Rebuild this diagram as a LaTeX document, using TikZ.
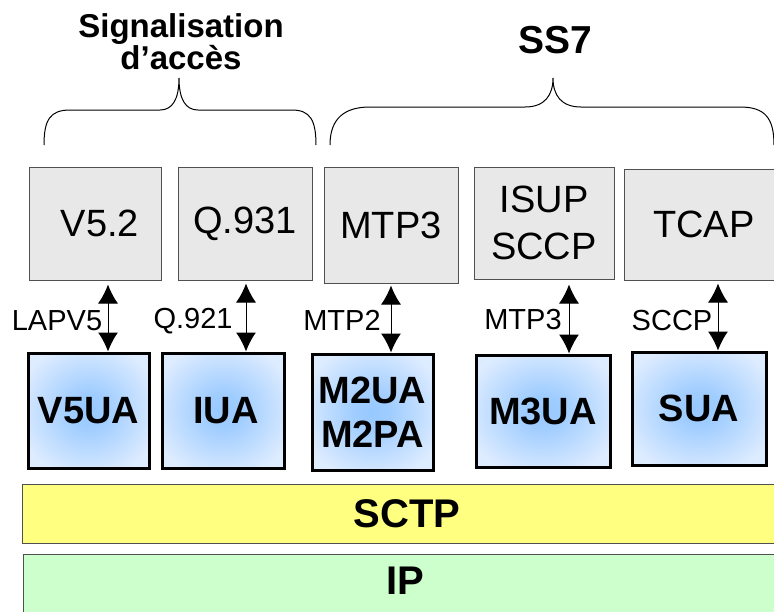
\documentclass[tikz,border=0pt]{standalone}
\usepackage{fontspec}
\setmainfont{Liberation Sans}
\usetikzlibrary{arrows.meta}
\definecolor{grayfill}{RGB}{232,232,232}
\definecolor{grayline}{RGB}{80,80,80}
\definecolor{bluein}{RGB}{150,200,255}
\definecolor{blueout}{RGB}{222,236,255}
\definecolor{sctpfill}{RGB}{255,255,128}
\definecolor{ipfill}{RGB}{204,255,204}
\pgfdeclareradialshading{bluerad}{\pgfpoint{0bp}{0bp}}{color(0bp)=(bluein); color(8bp)=(bluein!85!blueout); color(30bp)=(blueout); color(50bp)=(blueout)}
\tikzset{
  graybox/.style={draw=grayline, line width=1pt, fill=grayfill, inner sep=0pt, align=center, font=\fontsize{38}{47}\selectfont},
  bluebox/.style={draw=black, line width=3pt, shading=bluerad, inner sep=0pt, align=center, font=\bfseries\fontsize{38}{44}\selectfont},
  layerbar/.style={draw=grayline, line width=1pt, inner sep=0pt, font=\bfseries\fontsize{40}{48}\selectfont},
  lbl/.style={inner sep=0pt, font=\fontsize{29}{34}\selectfont},
  hdr/.style={inner sep=0pt, align=center, font=\bfseries\fontsize{33}{32}\selectfont},
  dbl/.style={line width=1pt, {Latex[length=19pt,width=20pt]}-{Latex[length=19pt,width=20pt]}},
  brace/.style={line width=1pt}
}
\begin{document}
\begin{tikzpicture}[x=1pt,y=-1pt]
\useasboundingbox (0,0) rectangle (774,611);
% headers
\node[hdr] (hacc) at (181,42) {Signalisation\\d’accès};
\node[hdr, font=\bfseries\fontsize{39}{44}\selectfont] (hss7) at (555,40) {SS7};
% braces
\draw[brace] (44,145) .. controls (44,120) and (50,110) .. (70,110) -- (160,110)
  .. controls (172,110) and (179,100) .. (179,78)
  .. controls (179,100) and (186,110) .. (198,110) -- (292,110)
  .. controls (310,110) and (316,120) .. (316,145);
\draw[brace] (330,145) .. controls (330,118) and (345,107) .. (370,107) -- (525,107)
  .. controls (545,107) and (553,95) .. (553,78)
  .. controls (553,95) and (561,107) .. (581,107) -- (740,107)
  .. controls (765,107) and (774,118) .. (774,145);
% upper protocol boxes
\node[graybox, minimum width=132pt, minimum height=113pt] (v52) at (95,223.5) {\hspace*{10pt}V5.2};
\node[graybox, minimum width=134pt, minimum height=113pt] (q931) at (245,223.5) {Q.931};
\node[graybox, minimum width=134pt, minimum height=116pt] (mtp3) at (391,225) {MTP3};
\node[graybox, minimum width=140pt, minimum height=112pt] (isup) at (544,223) {ISUP\\SCCP};
\node[graybox, minimum width=160pt, minimum height=111pt] (tcap) at (704,224.5) {TCAP};
% adaptation layer boxes
\node[bluebox, minimum width=121pt, minimum height=115pt] (v5ua) at (88.5,410.5) {V5UA};
\node[bluebox, minimum width=122pt, minimum height=115pt] (iua) at (223,410.5) {\hspace*{6pt}IUA};
\node[bluebox, minimum width=121pt, minimum height=116pt] (m2ua) at (372.5,412) {M2UA\\M2PA};
\node[bluebox, minimum width=134pt, minimum height=112pt] (m3ua) at (543,411) {M3UA};
\node[bluebox, minimum width=134pt, minimum height=113pt] (sua) at (699,408.5) {SUA};
% arrow positions
\coordinate (x1) at (108,0);
\coordinate (x2) at (246,0);
\coordinate (x3) at (391,0);
\coordinate (x4) at (569,0);
\coordinate (x5) at (718,0);
\draw[dbl, shorten <=4pt] (v52.south -| x1) -- (v5ua.north -| x1);
\draw[dbl, shorten <=3pt] (q931.south -| x2) -- (iua.north -| x2);
\draw[dbl, shorten <=2pt] (mtp3.south -| x3) -- (m2ua.north -| x3);
\draw[dbl, shorten <=5pt] (isup.south -| x4) -- (m3ua.north -| x4);
\draw[dbl, shorten <=3pt] (tcap.south -| x5) -- (sua.north -| x5);
% arrow labels
\node[lbl] (llap) at (57,321) {LAPV5};
\node[lbl] (lq921) at (193,321) {Q.921};
\node[lbl] (lmtp2) at (342,320) {MTP2};
\node[lbl] (lmtp3) at (523,320) {MTP3};
\node[lbl] (lsccp) at (672,321) {SCCP};
% lower layers
\node[layerbar, fill=sctpfill, minimum width=770pt, minimum height=59pt] (sctp) at (407,513.5) {SCTP};
\node[layerbar, fill=ipfill, minimum width=770pt, minimum height=70pt] (ip) at (408,589) {};
\node[inner sep=0pt, font=\bfseries\fontsize{40}{48}\selectfont] (iptxt) at (405,581) {IP};
\end{tikzpicture}
\end{document}
